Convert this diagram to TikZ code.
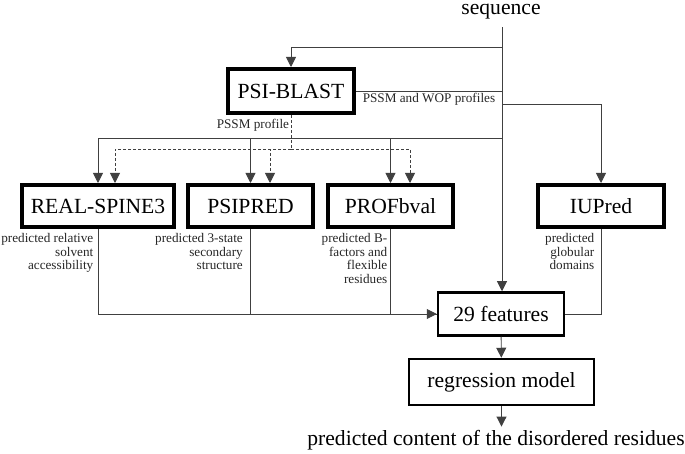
\documentclass[tikz,border=0pt]{standalone}
\usepackage{fontspec}
\setmainfont{Liberation Serif}
\usetikzlibrary{arrows.meta,positioning}

\begin{document}
\begin{tikzpicture}[x=1pt,y=-1pt,
    >={Triangle[length=10pt,width=10pt]},
    big/.style={font=\rmfamily\fontsize{21.6}{25}\selectfont},
    tool/.style={draw,line width=4pt,big,inner sep=0pt,minimum height=42pt},
    stage/.style={draw,line width=2.5pt,big,inner sep=0pt},
    lbl/.style={font=\rmfamily\fontsize{13.2}{13.5}\selectfont,align=right,text=black!85,inner sep=1.5pt},
    flow/.style={draw=black!75,line width=0.9pt},
    profline/.style={flow,dash pattern=on 3pt off 2pt}]

          \useasboundingbox (0,0) rectangle (685,454);

          \node[big]   (seq)  at (501,12)  {sequence};
          \node[tool,minimum width=126pt,minimum height=44pt] (psi) at (291,91) {PSI-BLAST};
          \node[tool,minimum width=152pt]  (rs)  at (98,206)  {REAL-SPINE3};
          \node[tool,minimum width=125pt]  (pp)  at (250.5,206) {PSIPRED};
          \node[tool,minimum width=125pt]  (pf)  at (390.5,206) {PROFbval};
          \node[tool,minimum width=126pt]  (iup) at (601,206) {IUPred};
          \node[stage,minimum width=126pt,minimum height=43pt] (feat) at (501,314) {29 features};
          \node[stage,minimum width=185pt,minimum height=46pt] (reg)  at (501.5,382) {regression model};
          \node[big]   (out)  at (496,440) {predicted content of the disordered residues};

          % junctions on the sequence line
          \coordinate (j1) at (502,47);
          \coordinate (j2) at (502,104);
          \coordinate (j3) at (502,138);
          \coordinate (d0) at (291,149);

          \path[flow,->] ([yshift=-4pt]seq.south -| j1) -- (j1 |- feat.north);
          \path[flow,->] (j1) -| (psi.north);
          \path[flow] (psi.east) -- (psi.east -| j1)
                      node[midway,below,lbl,align=center] {PSSM and WOP profiles};
          \path[flow,->] (j2) -| (iup.north);
          \path[flow,->] (j3) -| (rs.north);
          \path[flow,->] (j3) -| (pp.north);
          \path[flow,->] (j3) -| (pf.north);

          % PSSM profile (dashed)
          \path[profline] (psi.south) -- (d0)
                      node[pos=0.3,left,lbl] {PSSM profile};
          \path[profline,->] (d0) -| ([xshift=17pt]rs.north);
          \path[profline,->] (d0) -| ([xshift=19.5pt]pp.north);
          \path[profline,->] (d0) -| ([xshift=19.5pt]pf.north);

          % predictor outputs
          \path[flow,->] (rs.south) |- (feat.west);
          \path[flow] (pp.south) |- (feat.west);
          \path[flow] (pf.south) |- (feat.west);
          \path[flow] (iup.south) |- (feat.east);

          \node[lbl,anchor=north east] at ([xshift=-3pt,yshift=-3pt]rs.south)
               {predicted relative\\solvent\\accessibility};
          \node[lbl,anchor=north east] at ([xshift=-6pt,yshift=-3pt]pp.south)
               {predicted 3-state\\secondary\\structure};
          \node[lbl,anchor=north east] at ([xshift=-1.5pt,yshift=-3pt]pf.south)
               {predicted B-\\factors and\\flexible\\residues};
          \node[lbl,anchor=north east] at ([xshift=-5pt,yshift=-3pt]iup.south)
               {predicted\\globular\\domains};

          \path[flow,->] (feat) -- (reg);
          \path[flow,->] (reg.south) -- (reg.south |- out.north);
        \end{tikzpicture}
\end{document}
